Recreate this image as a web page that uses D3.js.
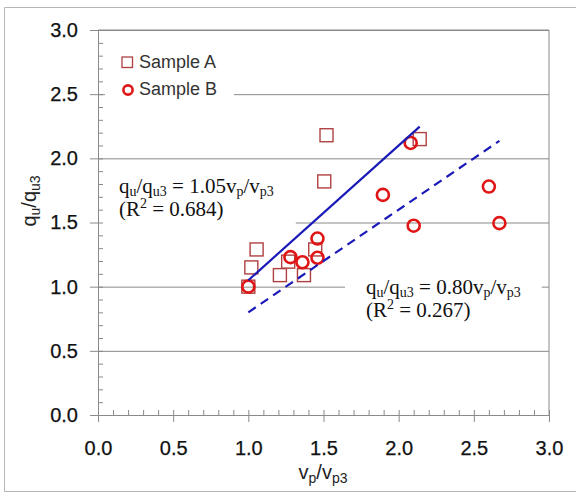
<!DOCTYPE html>
<html>
<head>
<meta charset="utf-8">
<script src="https://cdn.jsdelivr.net/npm/d3@7"></script>
<style>
  body { margin: 0; background: #fff; }
  text { font-family: "Liberation Sans", Arial, sans-serif; }
  .serif { font-family: "Liberation Serif", "Times New Roman", serif; }
</style>
</head>
<body>
<div id="chart"></div>
<script>
// data
var sampleA_x = [1.00, 1.02, 1.055, 1.21, 1.265, 1.37, 1.445, 1.505, 1.52, 2.14];
var sampleA_y = [1.00, 1.15, 1.29, 1.09, 1.195, 1.09, 1.29, 1.82, 2.18, 2.15];
var sampleB_x = [1.00, 1.28, 1.36, 1.46, 1.46, 1.895, 2.08, 2.10, 2.60, 2.67];
var sampleB_y = [1.00, 1.23, 1.19, 1.375, 1.225, 1.715, 2.12, 1.475, 1.78, 1.495];
var fitSlopes = [1.05, 0.80];
var fitRanges = [[1.0, 2.14], [1.0, 2.67]];
var majorTicks = [0, 0.5, 1.0, 1.5, 2.0, 2.5, 3.0];
var minorTicks = d3.range(0, 3.001, 0.1);

var width = 576, height = 493;

var svg = d3.select("#chart")
  .append("svg")
    .attr("width", width)
    .attr("height", height);

// outer frame (open on the right)
svg.append("path")
  .attr("d", "M576,7.5 H4.5 V491.5 H576")
  .attr("fill", "none")
  .attr("stroke", "#b5b5b5");

var x = d3.scaleLinear().domain([0, 3]).range([98, 549]);
var y = d3.scaleLinear().domain([0, 3]).range([415, 30]);

// gridlines
svg.append("g")
  .attr("transform", "translate(98,0)")
  .call(d3.axisLeft(y).tickValues(majorTicks.slice(1)).tickSize(-(549 - 98)).tickFormat(""))
  .call(g => g.select(".domain").remove())
  .call(g => g.selectAll("line").attr("stroke", "#9a9a9a"));

// right border
svg.append("line")
  .attr("x1", x(3)).attr("x2", x(3))
  .attr("y1", y(0)).attr("y2", y(3))
  .attr("stroke", "#8a8a8a");

// white boxes behind text (cover gridlines)
var boxLayer = svg.append("g");

// legend
var legend = svg.append("g");
legend.append("rect")
  .attr("x", 122).attr("y", 57).attr("width", 10.5).attr("height", 10.5)
  .attr("fill", "none").attr("stroke", "#b04040").attr("stroke-width", 1.3);
legend.append("circle")
  .attr("cx", 128).attr("cy", 90).attr("r", 4.6)
  .attr("fill", "none").attr("stroke", "#e01515").attr("stroke-width", 2.6);
legend.append("text").attr("x", 139).attr("y", 67.5)
  .attr("font-size", 18).attr("fill", "#333").text("Sample A");
legend.append("text").attr("x", 139).attr("y", 95)
  .attr("font-size", 18).attr("fill", "#333").text("Sample B");

// equation labels
function eqLabel(xp, yp, coef, r2) {
  var g = svg.append("g").attr("class", "serif");
  var t = g.append("text").attr("class", "serif").attr("x", xp).attr("y", yp)
    .attr("font-size", 21).attr("fill", "#111");
  t.append("tspan").text("q");
  t.append("tspan").attr("dy", 3).attr("font-size", 14).text("u");
  t.append("tspan").attr("dy", -3).text("/q");
  t.append("tspan").attr("dy", 3).attr("font-size", 14).text("u3");
  t.append("tspan").attr("dy", -3).text(" = " + coef + "v");
  t.append("tspan").attr("dy", 3).attr("font-size", 14).text("p");
  t.append("tspan").attr("dy", -3).text("/v");
  t.append("tspan").attr("dy", 3).attr("font-size", 14).text("p3");
  var t2 = g.append("text").attr("class", "serif").attr("x", xp).attr("y", yp + 23)
    .attr("font-size", 21).attr("fill", "#111");
  t2.append("tspan").text("(R");
  t2.append("tspan").attr("dy", -8).attr("font-size", 14).text("2");
  t2.append("tspan").attr("dy", 8).text(" = " + r2 + ")");
  return g;
}
var eq1 = eqLabel(119, 193, "1.05", "0.684");
var eq2 = eqLabel(366, 294, "0.80", "0.267");

[[legend, 17, 10], [eq1, 22, 12], [eq2, 21, 12]].forEach(function(b) {
  var bb = b[0].node().getBBox();
  boxLayer.append("rect")
    .attr("x", bb.x - b[1]).attr("y", bb.y - b[2])
    .attr("width", bb.width + 2 * b[1]).attr("height", bb.height + 2 * b[2])
    .attr("fill", "#fff");
});

// axes
var axisColor = "#8a8a8a";
svg.append("g")
  .attr("transform", "translate(98,0)")
  .call(d3.axisLeft(y).tickValues(majorTicks).tickSize(8).tickSizeOuter(0).tickPadding(12).tickFormat(d3.format(".1f")));
svg.append("g")
  .attr("transform", "translate(98,0)")
  .call(d3.axisRight(y).tickValues(minorTicks).tickSize(5).tickSizeOuter(0).tickFormat(""))
  .call(g => g.select(".domain").remove());
svg.append("g")
  .attr("transform", "translate(0,415)")
  .call(d3.axisBottom(x).tickValues(majorTicks).tickSize(7).tickSizeOuter(0).tickPadding(19).tickFormat(d3.format(".1f")));
svg.append("g")
  .attr("transform", "translate(0,415)")
  .call(d3.axisTop(x).tickValues(minorTicks).tickSize(5).tickSizeOuter(0).tickFormat(""))
  .call(g => g.select(".domain").remove());

svg.selectAll(".tick line, .domain").attr("stroke", axisColor);
svg.selectAll(".tick text")
  .attr("font-family", "'Liberation Sans', Arial, sans-serif")
  .attr("font-size", 20).attr("fill", "#111")
  .attr("stroke", "#111").attr("stroke-width", 0.25);

// top border
svg.append("line")
  .attr("x1", x(0)).attr("x2", x(3))
  .attr("y1", y(3)).attr("y2", y(3))
  .attr("stroke", axisColor);

// axis titles
var yt = svg.append("text")
  .attr("transform", "translate(36,201) rotate(-90)")
  .attr("text-anchor", "middle")
  .attr("font-size", 20).attr("fill", "#222");
yt.append("tspan").text("q");
yt.append("tspan").attr("dy", 4).attr("font-size", 14).text("u");
yt.append("tspan").attr("dy", -4).text("/q");
yt.append("tspan").attr("dy", 4).attr("font-size", 14).text("u3");

var xt = svg.append("text")
  .attr("x", 323).attr("y", 479)
  .attr("text-anchor", "middle")
  .attr("font-size", 20).attr("fill", "#222");
xt.append("tspan").text("v");
xt.append("tspan").attr("dy", 4).attr("font-size", 14).text("p");
xt.append("tspan").attr("dy", -4).text("/v");
xt.append("tspan").attr("dy", 4).attr("font-size", 14).text("p3");

// markers
var sampleA = sampleA_x.map(function(v, i) { return {x: v, y: sampleA_y[i]}; });
var sampleB = sampleB_x.map(function(v, i) { return {x: v, y: sampleB_y[i]}; });

svg.append("g").selectAll("rect")
  .data(sampleA)
  .enter()
  .append("rect")
    .attr("x", function(d) { return x(d.x) - 6.5; })
    .attr("y", function(d) { return y(d.y) - 6.5; })
    .attr("width", 13).attr("height", 13)
    .attr("fill", "none")
    .attr("stroke", "#b04040")
    .attr("stroke-width", 1.4);

svg.append("g").selectAll("circle")
  .data(sampleB)
  .enter()
  .append("circle")
    .attr("cx", function(d) { return x(d.x); })
    .attr("cy", function(d) { return y(d.y); })
    .attr("r", 6)
    .attr("fill", "none")
    .attr("stroke", "#e01515")
    .attr("stroke-width", 2.6);

// fit lines
fitSlopes.forEach(function(k, i) {
  var r = fitRanges[i];
  svg.append("line")
    .attr("x1", x(r[0])).attr("y1", y(k * r[0]))
    .attr("x2", x(r[1])).attr("y2", y(k * r[1]))
    .attr("stroke", "#1a1ab8")
    .attr("stroke-width", 2.2)
    .attr("stroke-dasharray", i == 1 ? "9,6" : null);
});
</script>
</body>
</html>
